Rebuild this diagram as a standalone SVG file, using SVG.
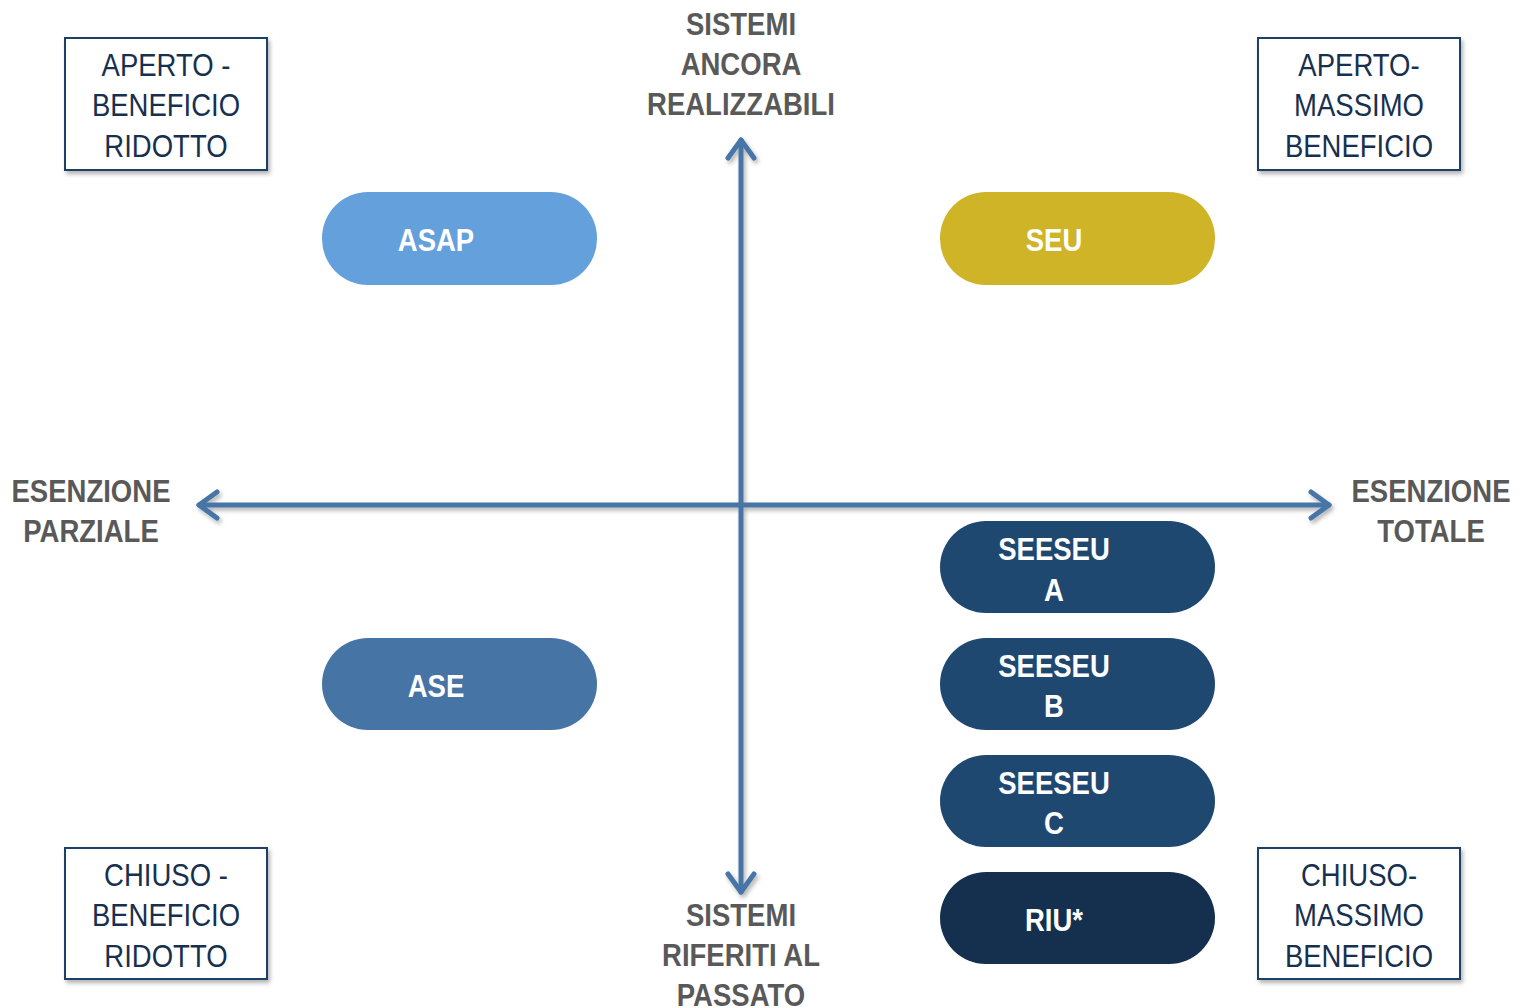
<svg xmlns="http://www.w3.org/2000/svg" width="1520" height="1008" viewBox="0 0 1520 1008">
<defs>
<style>
.box{fill:#fff;stroke:#1f3f66;stroke-width:2}
text{font-family:"Liberation Sans",Arial,sans-serif;font-size:32px;text-anchor:middle}
.bt{fill:#17304f}
.ax{font-weight:bold;fill:#595959}
.pt{font-weight:bold;fill:#fff}
.axis{stroke:#4674a6;stroke-width:5;fill:none;stroke-linecap:round;stroke-linejoin:round}
</style>
<filter id="sh" x="-10%" y="-10%" width="130%" height="130%">
<feDropShadow dx="2" dy="3" stdDeviation="2" flood-color="#000" flood-opacity="0.3"/>
</filter>
</defs>
<g id="connectors" filter="url(#sh)">
<line class="axis" x1="741" y1="140" x2="741" y2="892"/>
<polyline class="axis" points="728,158 741,140 754,158"/>
<polyline class="axis" points="728,874 741,892 754,874"/>
<line class="axis" x1="199" y1="505" x2="1329" y2="505"/>
<polyline class="axis" points="217,492 199,505 217,518"/>
<polyline class="axis" points="1311,492 1329,505 1311,518"/>
</g>
<g id="box-tl"><rect class="box" x="65" y="38" width="202" height="132" filter="url(#sh)"/>
<g transform="translate(166,0) scale(0.86,1)"><text class="bt" x="0" y="76">APERTO -</text><text class="bt" x="0" y="116">BENEFICIO</text><text class="bt" x="0" y="157">RIDOTTO</text></g></g>
<g id="box-tr"><rect class="box" x="1258" y="38" width="202" height="132" filter="url(#sh)"/>
<g transform="translate(1359,0) scale(0.86,1)"><text class="bt" x="0" y="76">APERTO-</text><text class="bt" x="0" y="116">MASSIMO</text><text class="bt" x="0" y="157">BENEFICIO</text></g></g>
<g id="box-bl"><rect class="box" x="65" y="848" width="202" height="131" filter="url(#sh)"/>
<g transform="translate(166,0) scale(0.86,1)"><text class="bt" x="0" y="886">CHIUSO -</text><text class="bt" x="0" y="926">BENEFICIO</text><text class="bt" x="0" y="967">RIDOTTO</text></g></g>
<g id="box-br"><rect class="box" x="1258" y="848" width="202" height="131" filter="url(#sh)"/>
<g transform="translate(1359,0) scale(0.86,1)"><text class="bt" x="0" y="886">CHIUSO-</text><text class="bt" x="0" y="926">MASSIMO</text><text class="bt" x="0" y="967">BENEFICIO</text></g></g>
<g id="label-top" transform="translate(741,0) scale(0.86,1)"><text class="ax" x="0" y="35">SISTEMI</text><text class="ax" x="0" y="75">ANCORA</text><text class="ax" x="0" y="115">REALIZZABILI</text></g>
<g id="label-bottom" transform="translate(741,0) scale(0.86,1)"><text class="ax" x="0" y="926">SISTEMI</text><text class="ax" x="0" y="966">RIFERITI AL</text><text class="ax" x="0" y="1006">PASSATO</text></g>
<g id="label-left" transform="translate(91,0) scale(0.86,1)"><text class="ax" x="0" y="502">ESENZIONE</text><text class="ax" x="0" y="542">PARZIALE</text></g>
<g id="label-right" transform="translate(1431,0) scale(0.86,1)"><text class="ax" x="0" y="502">ESENZIONE</text><text class="ax" x="0" y="542">TOTALE</text></g>
<g id="asap"><rect x="322" y="192" width="275" height="93" rx="46" fill="#64a0dc"/><text class="pt" transform="translate(436,251) scale(0.86,1)">ASAP</text></g>
<g id="seu"><rect x="940" y="192" width="275" height="93" rx="46" fill="#cfb428"/><text class="pt" transform="translate(1054,251) scale(0.86,1)">SEU</text></g>
<g id="ase"><rect x="322" y="638" width="275" height="92" rx="46" fill="#4674a4"/><text class="pt" transform="translate(436,697) scale(0.86,1)">ASE</text></g>
<g id="seeseu-a"><rect x="940" y="521" width="275" height="92" rx="46" fill="#1e4870"/><g transform="translate(1054,0) scale(0.86,1)"><text class="pt" x="0" y="560">SEESEU</text><text class="pt" x="0" y="601">A</text></g></g>
<g id="seeseu-b"><rect x="940" y="638" width="275" height="92" rx="46" fill="#1e4870"/><g transform="translate(1054,0) scale(0.86,1)"><text class="pt" x="0" y="677">SEESEU</text><text class="pt" x="0" y="717">B</text></g></g>
<g id="seeseu-c"><rect x="940" y="755" width="275" height="92" rx="46" fill="#1e4870"/><g transform="translate(1054,0) scale(0.86,1)"><text class="pt" x="0" y="794">SEESEU</text><text class="pt" x="0" y="834">C</text></g></g>
<g id="riu"><rect x="940" y="872" width="275" height="92" rx="46" fill="#152f4e"/><text class="pt" transform="translate(1054,931) scale(0.86,1)">RIU*</text></g>
</svg>
